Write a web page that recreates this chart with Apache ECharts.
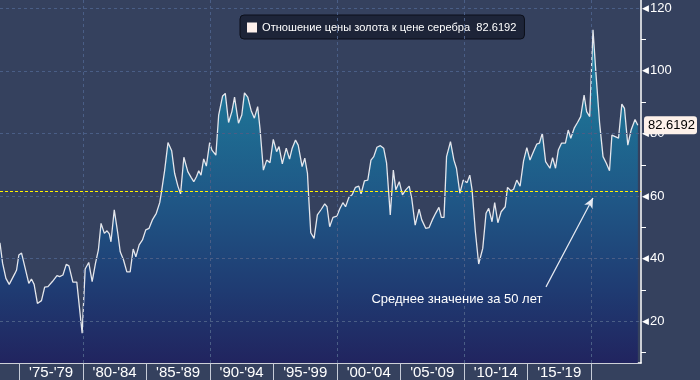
<!DOCTYPE html>
<html><head><meta charset="utf-8">
<script src="https://cdn.jsdelivr.net/npm/echarts@6/dist/echarts.min.js"></script>
<style>html,body{margin:0;padding:0;background:#35415e;}#c{width:700px;height:380px;}</style>
</head><body><div id="c"></div>
<script>
// x positions (decimal years) and gold/silver ratio values
var years = [1973.47,1973.68,1973.94,1974.20,1974.65,1974.78,1974.96,1975.17,1975.43,1975.74,1975.95,1976.16,1976.42,1976.74,1976.99,1977.25,1977.60,1977.96,1978.17,1978.43,1978.69,1978.90,1979.21,1979.52,1979.94,1980.18,1980.46,1980.73,1980.99,1981.22,1981.43,1981.69,1981.90,1982.08,1982.21,1982.47,1982.73,1982.94,1983.20,1983.46,1983.72,1983.96,1984.17,1984.43,1984.69,1984.95,1985.21,1985.47,1985.78,1986.05,1986.17,1986.44,1986.70,1986.99,1987.22,1987.48,1987.69,1987.95,1988.26,1988.52,1988.73,1988.94,1989.12,1989.30,1989.51,1989.72,1989.98,1990.16,1990.47,1990.69,1991.00,1991.21,1991.47,1991.73,1991.94,1992.25,1992.51,1992.72,1992.98,1993.25,1993.50,1993.76,1993.95,1994.21,1994.47,1994.73,1994.99,1995.25,1995.44,1995.70,1996.01,1996.27,1996.48,1996.74,1996.95,1997.26,1997.47,1997.68,1997.79,1997.94,1998.20,1998.46,1998.77,1999.04,1999.22,1999.43,1999.69,2000.00,2000.21,2000.47,2000.68,2000.94,2001.20,2001.46,2001.72,2001.90,2002.17,2002.43,2002.68,2002.90,2003.15,2003.42,2003.68,2003.91,2004.20,2004.44,2004.64,2004.91,2005.16,2005.42,2005.69,2005.89,2006.16,2006.47,2006.68,2006.99,2007.25,2007.51,2007.77,2008.03,2008.22,2008.43,2008.63,2008.94,2009.21,2009.41,2009.68,2009.94,2010.25,2010.46,2010.64,2010.90,2011.16,2011.48,2011.74,2011.95,2012.21,2012.42,2012.67,2012.93,2013.25,2013.43,2013.69,2013.91,2014.16,2014.42,2014.69,2014.95,2015.20,2015.47,2015.73,2015.94,2016.17,2016.43,2016.77,2016.98,2017.21,2017.43,2017.68,2017.99,2018.21,2018.41,2018.68,2018.94,2019.19,2019.46,2019.66,2019.90,2020.16,2020.42,2020.68,2020.95,2021.21,2021.46,2021.65,2021.91,2022.17,2022.43,2022.64,2022.90,2023.16,2023.47,2023.69];
var ratio = [45.1,38.5,33.7,31.8,35.3,36.4,41.2,41.8,37.4,32.1,33.5,31.8,25.7,26.6,30.9,31.1,32.7,34.6,34.3,34.8,38.2,37.7,32.5,32.5,16.2,36.7,38.8,32.7,38.5,42.8,51.3,48.1,48.9,47.9,45.4,55.6,48.6,42.2,39.6,35.8,35.8,43.1,40.6,44.4,46.0,49.2,49.7,52.4,54.5,57.9,60.9,68.3,77.1,74.5,67.3,63.2,60.7,72.4,67.8,66.0,64.6,66.2,68.1,66.7,71.9,69.6,77.1,74.7,73.1,85.9,92.0,92.8,83.5,87.0,91.6,83.3,85.9,93.0,91.6,87.3,84.9,88.6,81.3,68.3,71.5,70.7,78.1,74.2,75.8,70.3,75.3,71.8,75.3,77.9,76.3,69.4,72.1,67.3,58.8,48.3,46.5,54.0,55.8,57.5,56.6,50.2,53.2,53.6,55.8,57.9,56.6,59.6,60.4,62.8,63.2,60.7,64.9,65.1,71.5,72.6,75.6,76.1,75.3,70.5,54.0,68.3,62.0,64.6,60.4,62.0,63.2,59.3,50.7,55.8,52.4,49.7,49.9,52.4,54.5,56.4,53.2,53.2,72.6,77.4,71.5,68.9,60.9,65.1,64.3,66.7,62.0,48.6,38.3,43.3,54.5,56.1,51.8,57.9,51.5,55.0,56.6,62.8,61.7,62.2,65.1,63.2,71.2,75.5,71.5,74.2,76.6,76.9,80.1,71.0,68.9,72.3,68.9,74.7,76.9,76.9,81.1,78.5,81.7,83.5,85.4,92.3,87.0,85.4,113.1,97.6,83.3,72.6,70.5,68.1,79.5,79.0,78.5,89.4,88.0,76.3,81.1,84.5,82.6192];
var lastValue = 82.6192;
var meanValue = 61.6;
var seriesName = 'Отношение цены золота к цене серебра  82.6192';
var xTicks = [1975,1980,1985,1990,1995,2000,2005,2010,2015,2020];
var xLabelPos = [1977.5,1982.5,1987.5,1992.5,1997.5,2002.5,2007.5,2012.5,2017.5];
var xLabels = ["'75-'79","'80-'84","'85-'89","'90-'94","'95-'99","'00-'04","'05-'09","'10-'14","'15-'19"];
var xGrid = [1980,1990,2000,2010,2020];
var yLabels = [20,40,60,80,100,120];
var yMinor = [10,30,50,70,90,110];
var annotationText = 'Среднее значение за 50 лет';
var annotationAt = [2009.45, 27.1];
var arrowFrom = [2016.46, 31.0];
var arrowTo = [2020.16, 59.4];

var data = years.map(function(y,i){return [y, ratio[i]];});
var FONT = '"Liberation Sans", Arial, sans-serif';
var gridLine = {color:'#4a5e86', type:[3,3], width:1};
var mlData = [];
yLabels.forEach(function(v){ mlData.push({yAxis:v, lineStyle:gridLine}); });
xGrid.forEach(function(v){ mlData.push({xAxis:v, lineStyle:gridLine}); });
mlData.push({yAxis:meanValue, lineStyle:{color:'#fff200', type:[3,2], width:1.2}});
mlData.push([{coord:arrowFrom, symbol:'none', lineStyle:{color:'#e6eaf2',width:1.2,type:'solid'}},{coord:arrowTo, symbol:'arrow', symbolSize:[7,10]}]);

var chart = echarts.init(document.getElementById('c'));
chart.setOption({
  animation:false,
  backgroundColor:'#35415e',
  textStyle:{fontFamily:FONT},
  grid:{left:0, right:55, top:0, bottom:17, containLabel:false},
  legend:{
    left:240, top:15, padding:[7,8,6,7], itemWidth:10, itemHeight:10, itemGap:5,
    backgroundColor:'#1d2438', borderColor:'#0c0f1a', borderWidth:1, borderRadius:4,
    icon:'rect',
    textStyle:{color:'#ffffff', fontSize:11.1, fontFamily:FONT},
    data:[seriesName]
  },
  xAxis:{
    type:'value', min:1973.474, max:2023.94,
    axisLine:{show:true, lineStyle:{color:'#ffffff', width:1.5}},
    axisTick:{show:true, customValues:xTicks, length:17, lineStyle:{color:'#c7ccd8', width:1}},
    axisLabel:{show:true, customValues:xLabelPos, margin:2, color:'#ffffff', fontSize:15, fontFamily:'"Liberation Sans Narrow", "Liberation Sans", Arial',
      formatter:function(v){ var i = xLabelPos.indexOf(v); return i>=0 ? xLabels[i] : ''; }},
    splitLine:{show:false}
  },
  yAxis:[{
    type:'value', position:'right', min:6.68, max:122.65,
    axisLine:{show:true, lineStyle:{color:'#ffffff', width:1.5}},
    axisTick:{show:true, customValues:yMinor, length:5, lineStyle:{color:'#ffffff'}},
    axisLabel:{show:true, customValues:yLabels, margin:1, color:'#ffffff', fontSize:13,
      formatter:function(v){ return '{t|◀}' + v; },
      rich:{t:{color:'#ffffff', fontSize:9, padding:[0,1,0,0]}}},
    splitLine:{show:false}
  },{
    type:'value', position:'right', min:6.68, max:122.65,
    axisLine:{show:false}, axisTick:{show:false}, splitLine:{show:false},
    axisLabel:{show:true, customValues:[lastValue], margin:3, color:'#000000', fontSize:13,
      backgroundColor:'#fdf1ea', borderRadius:3, padding:[3,2,2,4],
      formatter:function(v){ return String(lastValue); }}
  }],
  series:[{
    name:seriesName, type:'line', data:data, showSymbol:false, symbol:'none',
    itemStyle:{color:'#fdf0ec'},
    lineStyle:{color:'#e4e6ec', width:1.3},
    areaStyle:{opacity:1, color:{type:'linear', x:0, y:0, x2:0, y2:363, global:true,
      colorStops:[{offset:0,color:'#1987a8'},{offset:0.3,color:'#1e7094'},{offset:0.55,color:'#1f5786'},{offset:0.8,color:'#1f3b72'},{offset:1,color:'#21245f'}]}},
    markLine:{silent:true, symbol:'none', label:{show:false}, data:mlData, z:5},
    markPoint:{silent:true, symbol:'rect', symbolSize:1, itemStyle:{color:'rgba(0,0,0,0)'},
      label:{show:true, position:'inside', color:'#ffffff', fontSize:13, formatter:annotationText},
      data:[{coord:annotationAt}]}
  }]
});
</script></body></html>
